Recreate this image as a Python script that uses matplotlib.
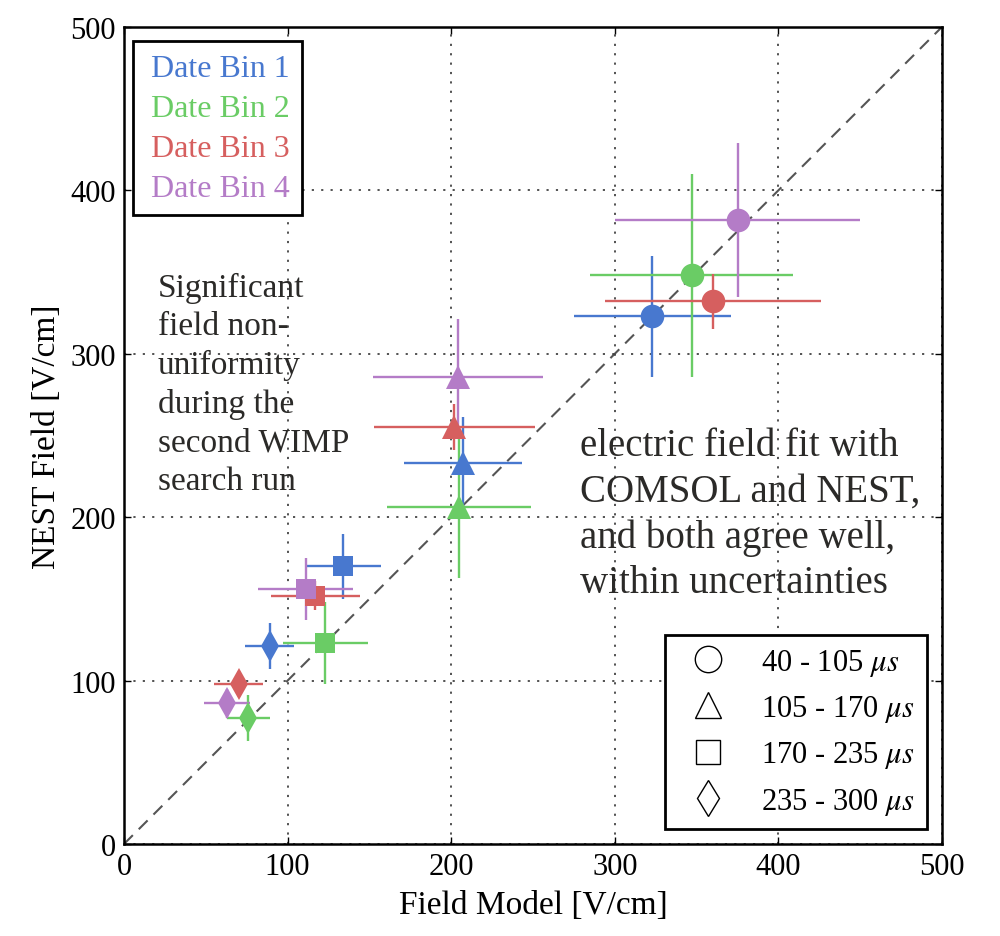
import matplotlib
matplotlib.use("Agg")
import matplotlib.pyplot as plt
from matplotlib.lines import Line2D

plt.rcParams['font.family'] = ['Liberation Serif', 'DejaVu Serif']
plt.rcParams['mathtext.fontset'] = 'stix'

# date bins (colours) and drift-time bins (markers)
date_bins = ['Date Bin 1', 'Date Bin 2', 'Date Bin 3', 'Date Bin 4']
colors = ['#4878CF', '#6ACC65', '#D65F5F', '#B47CC7']
time_bins = [r'40 - 105 $\mu s$', r'105 - 170 $\mu s$',
             r'170 - 235 $\mu s$', r'235 - 300 $\mu s$']
markers = ['o', '^', 's', 'd']
marker_sizes = [17, 17, 15, 16]

# field model (x) and NEST field (y) per time bin, one value per date bin
model_40_105 = [323, 347, 360, 375]
model_err_40_105 = [48, 62, 66, 75]
nest_40_105 = [323, 348, 332, 382]
nest_err_40_105 = [37, 62, 17, 47]

model_105_170 = [207, 205, 202, 204]
model_err_105_170 = [36, 44, 49, 52]
nest_105_170 = [233, 206, 255, 286]
nest_err_105_170 = [28, 43, 14, 35]

model_170_235 = [134, 123, 117, 111]
model_err_170_235 = [23, 26, 27, 29]
nest_170_235 = [170, 123, 152, 156]
nest_err_170_235 = [20, 25, 9, 19]

model_235_300 = [89, 76, 70, 63]
model_err_235_300 = [15, 13, 15, 14]
nest_235_300 = [121, 77, 98, 86]
nest_err_235_300 = [14, 14, 8, 9]

xs = [model_40_105, model_105_170, model_170_235, model_235_300]
xerrs = [model_err_40_105, model_err_105_170, model_err_170_235, model_err_235_300]
ys = [nest_40_105, nest_105_170, nest_170_235, nest_235_300]
yerrs = [nest_err_40_105, nest_err_105_170, nest_err_170_235, nest_err_235_300]

fig = plt.figure(figsize=(10, 9.37), dpi=100)
ax = fig.add_axes([0.124, 0.0982, 0.818, 0.872])

ax.plot([0, 500], [0, 500], color='#555555', linestyle='--', dashes=(6, 4),
        linewidth=1.5, zorder=1)

for t in range(len(time_bins)):
    for d in range(len(date_bins)):
        ax.errorbar(xs[t][d], ys[t][d], xerr=xerrs[t][d], yerr=yerrs[t][d],
                    fmt=markers[t], color=colors[d], markersize=marker_sizes[t],
                    markeredgewidth=0, elinewidth=1.7, capsize=5,
                    capthick=1.7, zorder=3)

ax.set_xlim(0, 500)
ax.set_ylim(0, 500)
ax.set_xticks([0, 100, 200, 300, 400, 500])
ax.set_yticks([0, 100, 200, 300, 400, 500])
ax.grid(True, color='#444444', linestyle=(0, (1.2, 4)), linewidth=1.3)
ax.tick_params(direction='in', length=5, width=1, top=True, right=True,
               labelsize=22, pad=6)
for sp in ax.spines.values():
    sp.set_linewidth(1.8)

ax.set_xlabel('Field Model [V/cm]', fontsize=24, labelpad=6)
ax.set_ylabel('NEST Field [V/cm]', fontsize=24, labelpad=6)

# colour legend (text only)
h1 = [Line2D([], [], linestyle='none') for _ in date_bins]
leg1 = ax.legend(h1, date_bins, loc='upper left',
                 bbox_to_anchor=(0.011, 0.983), handlelength=0.15,
                 handletextpad=0, fontsize=23, labelcolor=colors,
                 fancybox=False, edgecolor='black', framealpha=1,
                 borderpad=0.4, labelspacing=0.33, borderaxespad=0)
leg1.get_frame().set_linewidth(2)
ax.add_artist(leg1)

# marker legend
h2 = [Line2D([], [], marker=m, linestyle='none', markersize=s + 2,
             markerfacecolor='none', markeredgecolor='black',
             markeredgewidth=1)
      for m, s in zip(markers, marker_sizes)]
leg2 = ax.legend(h2, time_bins, loc='lower right',
                 bbox_to_anchor=(0.9817, 0.0184), fontsize=22,
                 fancybox=False, edgecolor='black', framealpha=1,
                 borderpad=0.4, labelspacing=0.5, handletextpad=0.75,
                 borderaxespad=0)
leg2.get_frame().set_linewidth(2)

ax.text(20.5, 350, 'Significant\nfield non-\nuniformity\nduring the\nsecond WIMP\nsearch run',
        fontsize=24, color='#2b2a28', va='top', ha='left', linespacing=1.33,
        zorder=5)
ax.text(279, 255, 'electric field fit with\nCOMSOL and NEST,\nand both agree well,\nwithin uncertainties',
        fontsize=28, color='#2b2a28', va='top', ha='left', linespacing=1.3,
        zorder=5)

fig.savefig('out.png', dpi=100)
